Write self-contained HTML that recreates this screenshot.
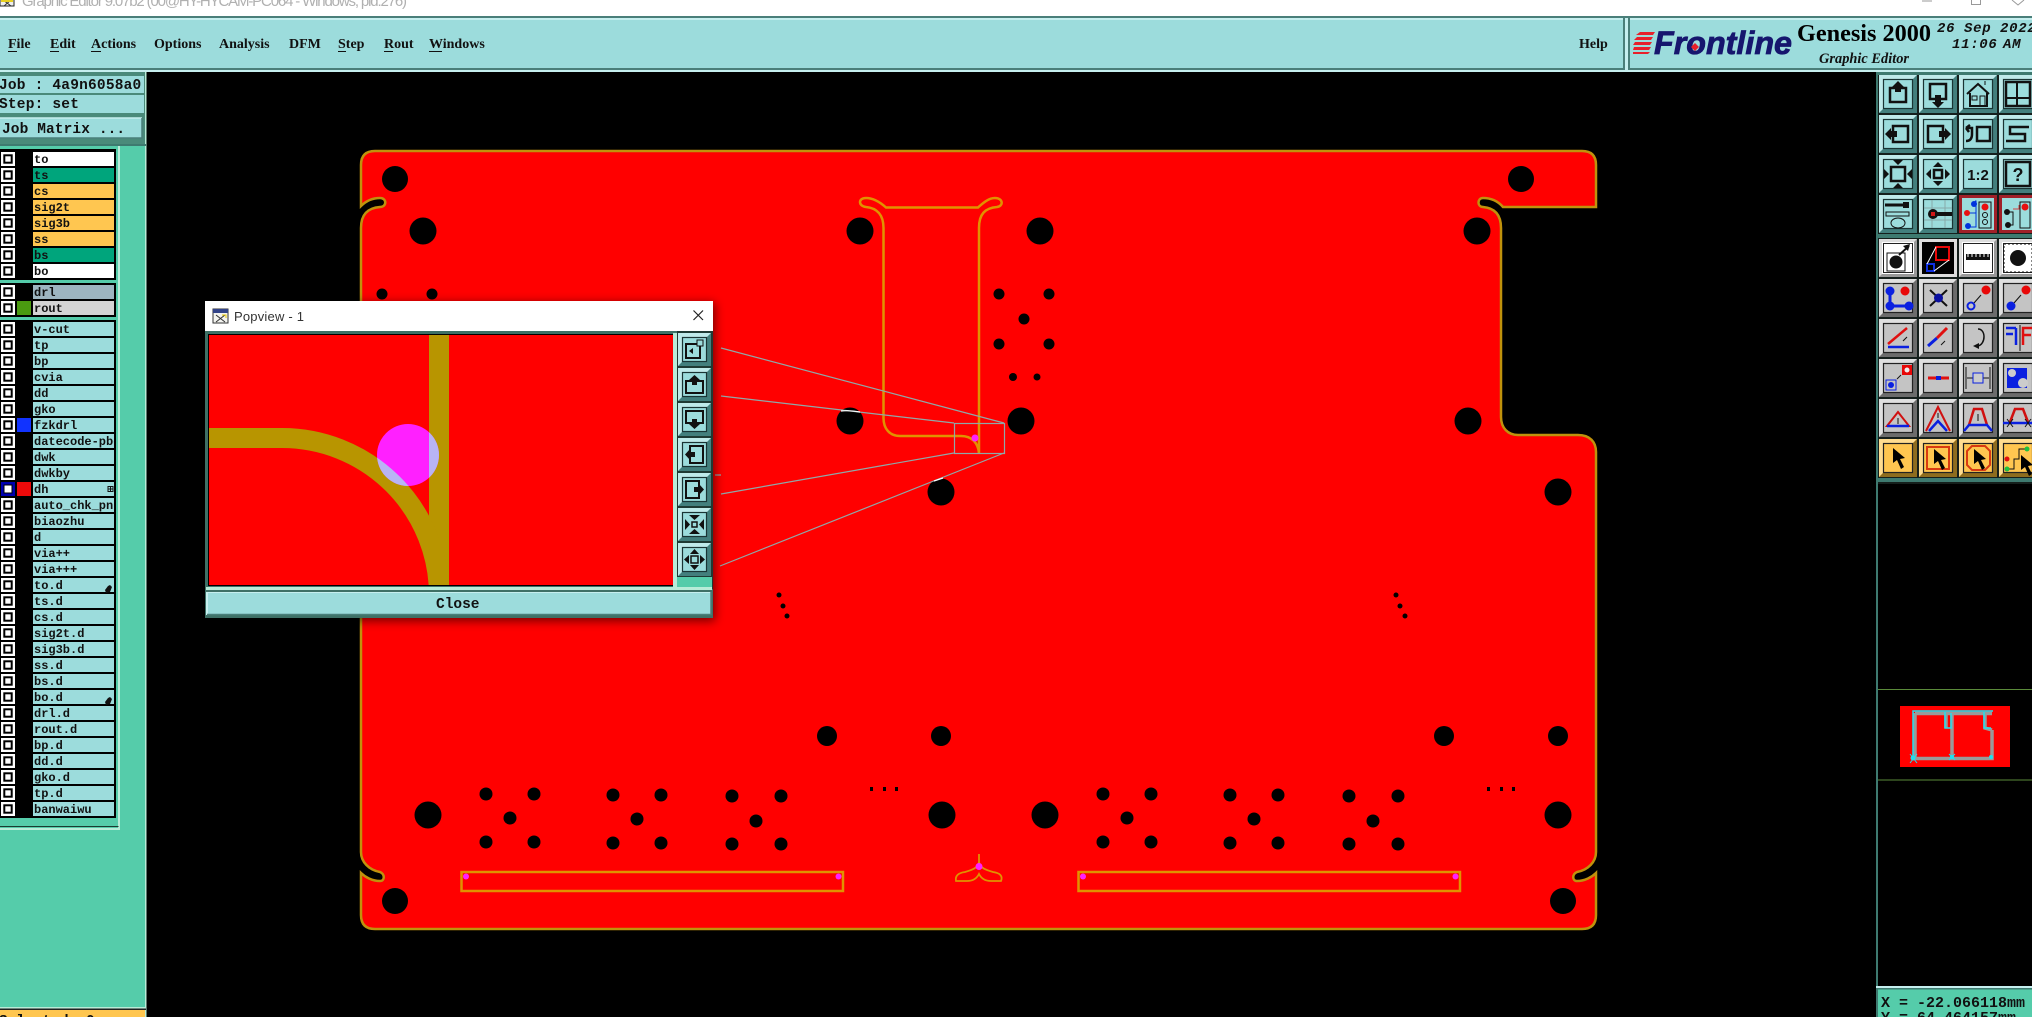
<!DOCTYPE html>
<html><head><meta charset="utf-8"><title>Graphic Editor</title>
<style>
html,body{margin:0;padding:0;background:#000;width:2032px;height:1017px;overflow:hidden}
svg{display:block}
.m{font:bold 14px "Liberation Serif",serif;fill:#111}
.mo{font:bold 14.5px "Liberation Mono",monospace;fill:#111}
.l{font:bold 12px "Liberation Mono",monospace;fill:#111}
</style></head><body>
<svg width="2032" height="1017" viewBox="0 0 2032 1017" xmlns="http://www.w3.org/2000/svg">
<defs>
<g id="bT"><rect width="38" height="38" fill="#9cdcdc"/><path d="M0 0H38L34 4H4V34L0 38Z" fill="#bfeaea"/><path d="M38 38H0L4 34H34V4L38 0Z" fill="#437f7d"/><rect x="4.500" y="4.500" width="29" height="29" fill="none" stroke="#1a3434" stroke-width="1.200"/></g>
<g id="bG"><rect width="38" height="38" fill="#c4c4c4"/><path d="M0 0H38L34 4H4V34L0 38Z" fill="#e0e0e0"/><path d="M38 38H0L4 34H34V4L38 0Z" fill="#6c6c6c"/><rect x="4.500" y="4.500" width="29" height="29" fill="none" stroke="#222" stroke-width="1.200"/></g>
<g id="bW"><rect width="38" height="38" fill="#ddd"/><path d="M38 38H0L3 35H35V3L38 0Z" fill="#999"/><rect x="3" y="3" width="32" height="32" fill="#fff"/><rect x="4.500" y="4.500" width="29" height="29" fill="#fff" stroke="#222"/></g>
<g id="bY"><rect width="38" height="38" fill="#ffc650"/><path d="M0 0H38L34 4H4V34L0 38Z" fill="#ffdc90"/><path d="M38 38H0L4 34H34V4L38 0Z" fill="#8e6c1e"/><rect x="4.500" y="4.500" width="29" height="29" fill="none" stroke="#222" stroke-width="1.200"/></g>
<g id="bP"><rect width="33" height="33" fill="#9cdcdc"/><path d="M0 0H33L29 4H4V29L0 33Z" fill="#bfeaea"/><path d="M33 33H0L4 29H29V4L33 0Z" fill="#437f7d"/><rect x="4.500" y="4.500" width="24" height="24" fill="none" stroke="#1a3434" stroke-width="1.200"/></g>
<g id="cb"><rect x="1" y="-7" width="14" height="14" fill="#fff"/><rect x="4.300" y="-3.700" width="7.400" height="7.400" fill="#fff" stroke="#000" stroke-width="2"/></g>
<path id="cur" d="M0 0L0 15L4 12L8 21L11 19L7 11L12 10Z" fill="#000"/>
<clipPath id="clipL"><rect x="33" y="140" width="81" height="700"/></clipPath>
<clipPath id="clipC"><rect x="209" y="335" width="464" height="250"/></clipPath>
<clipPath id="clipM"><circle cx="408" cy="455" r="31"/></clipPath>
<filter id="sh" x="-10%" y="-10%" width="120%" height="120%"><feGaussianBlur stdDeviation="5"/></filter>
</defs>

<rect width="2032" height="1017" fill="#000"/>

<!-- title bar -->
<rect width="2032" height="16" fill="#fff"/>
<rect x="0" y="-8" width="14" height="14" fill="#eee" stroke="#222"/>
<path d="M3 0L11 6M11 0L4 6" stroke="#333" fill="none"/><rect x="1" y="0" width="12" height="2" fill="#e8d020"/>
<text x="22" y="6" font-family="'Liberation Sans',sans-serif" font-size="15" fill="#b0b0b0" textLength="385">Graphic Editor 9.07b2 (00@HY-HYCAM-PC064 - Windows, pid:276)</text>
<path d="M1922 1H1932" stroke="#999"/><rect x="1971.500" y="-5" width="9" height="9.500" fill="none" stroke="#999"/><path d="M2012 0L2018 5L2024 0" stroke="#999" fill="none"/>

<!-- menu bar -->
<rect x="0" y="16" width="2032" height="2" fill="#4a7f7a"/>
<rect x="0" y="18" width="2032" height="2.500" fill="#c6efef"/>
<rect x="0" y="20" width="2032" height="48" fill="#9cdcdc"/>
<rect x="0" y="68" width="2032" height="2" fill="#4a7f7a"/>
<rect x="0" y="70" width="2032" height="2" fill="#c6efef"/>
<g class="m">
<text class="m" x="8" y="48">File</text>
<text class="m" x="50" y="48">Edit</text>
<text class="m" x="91" y="48">Actions</text>
<text class="m" x="154" y="48">Options</text>
<text class="m" x="219" y="48">Analysis</text>
<text class="m" x="289" y="48">DFM</text>
<text class="m" x="338" y="48">Step</text>
<text class="m" x="384" y="48">Rout</text>
<text class="m" x="429" y="48">Windows</text>
<text class="m" x="1579" y="48">Help</text>
</g>
<g fill="#111"><rect x="8" y="51" width="9" height="1"/><rect x="50" y="51" width="9" height="1"/><rect x="91" y="51" width="10" height="1"/><rect x="338" y="51" width="8" height="1"/><rect x="384" y="51" width="9" height="1"/><rect x="429" y="51" width="13" height="1"/></g>
<rect x="1623" y="18" width="2" height="52" fill="#4a7f7a"/>
<rect x="1560" y="68" width="65" height="2" fill="#4a7f7a"/>
<rect x="1625" y="18" width="3" height="54" fill="#c6efef"/>
<rect x="1628" y="18" width="2" height="52" fill="#4a7f7a"/>
<g fill="#e8202a"><path d="M1640 32L1655 32L1653 35H1636Z"/><path d="M1637 37H1653L1651 40H1634Z"/><path d="M1635 42H1652L1650 45H1633Z"/><path d="M1634 47H1651L1649 50H1633Z"/><path d="M1633 52H1650L1648 54H1633Z"/></g>
<text x="1654" y="54" font-family="'Liberation Sans',sans-serif" font-weight="bold" font-style="italic" font-size="32" fill="#16166e" stroke="#16166e" stroke-width="0.800" textLength="138" lengthAdjust="spacingAndGlyphs">Frontline</text>
<path d="M1695 43L1699 47L1695 51L1691 47Z" fill="#e8202a"/>
<text x="1797" y="41" font-family="'Liberation Serif',serif" font-weight="bold" font-size="24" fill="#000" textLength="134" lengthAdjust="spacingAndGlyphs">Genesis 2000</text>
<text x="1819" y="63" font-family="'Liberation Serif',serif" font-weight="bold" font-style="italic" font-size="14.500" fill="#111" textLength="90" lengthAdjust="spacingAndGlyphs">Graphic Editor</text>
<g font-family="'Liberation Mono',monospace" font-weight="bold" font-style="italic" font-size="14" fill="#111" letter-spacing="0.700">
<text x="1937" y="32">26</text><text x="1964" y="32">Sep</text><text x="2000" y="32">2022</text>
<text x="1952" y="48">11:06</text><text x="2003" y="48">AM</text></g>

<!-- left header -->
<rect x="0" y="72" width="146" height="74" fill="#4a8a7a"/>
<rect x="145" y="72" width="1.500" height="74" fill="#b8ecd8"/>
<rect x="0" y="76" width="144" height="17" fill="#9cdcdc"/>
<rect x="0" y="95" width="144" height="18" fill="#9cdcdc"/>
<rect x="0" y="118" width="142" height="19.500" fill="#9cdcdc"/>
<path d="M0 118H142" stroke="#c6efef" stroke-width="1.500"/><path d="M142 118V138H0" stroke="#4a7f7a" stroke-width="1.500" fill="none"/>
<text class="mo" x="-1" y="89" letter-spacing="0.200">Job : 4a9n6058a0</text>
<text class="mo" x="-1" y="108" letter-spacing="0.200">Step: set</text>
<text class="mo" x="2" y="133" letter-spacing="0.100">Job Matrix ...</text>

<!-- left panel -->
<rect x="0" y="146" width="146" height="871" fill="#55ccaa"/>
<rect x="145" y="146" width="1.500" height="871" fill="#b8ecd8"/>
<rect x="0" y="144" width="146" height="2" fill="#3e7a70"/>
<rect x="118" y="146" width="2" height="684" fill="#b8ecd8"/>
<rect x="0" y="828" width="120" height="2" fill="#b8ecd8"/>
<rect x="0" y="826" width="118.500" height="1" fill="#1a3a30"/>
<rect x="0" y="149" width="116" height="131" fill="#000"/>
<rect x="0" y="283" width="116" height="34" fill="#000"/>
<rect x="0" y="320" width="116" height="498" fill="#000"/>
<rect x="0" y="1007" width="146" height="1.500" fill="#b8ecd8"/>
<rect x="0" y="1008.500" width="146" height="1.500" fill="#222"/>
<rect x="0" y="1010" width="145" height="7" fill="#ffc650"/>
<text class="mo" x="-1" y="1025">Selected: 0</text>

<!-- layer cells -->
<g>
<rect x="33" y="152" width="81" height="14" fill="#fff"/><rect x="33" y="168" width="81" height="14" fill="#00a57c"/>
<rect x="33" y="184" width="81" height="14" fill="#ffc650"/><rect x="33" y="200" width="81" height="14" fill="#ffc650"/>
<rect x="33" y="216" width="81" height="14" fill="#ffc650"/><rect x="33" y="232" width="81" height="14" fill="#ffc650"/>
<rect x="33" y="248" width="81" height="14" fill="#00a57c"/><rect x="33" y="264" width="81" height="14" fill="#fff"/>
<rect x="33" y="285" width="81" height="14" fill="#9db5c0"/><rect x="33" y="301" width="81" height="14" fill="#d4d4d4"/>
<rect x="17" y="301" width="14" height="14" fill="#4a9a10"/>
</g>
<g fill="#9cdcdc">
<rect x="33" y="322" width="81" height="14"/><rect x="33" y="338" width="81" height="14"/><rect x="33" y="354" width="81" height="14"/><rect x="33" y="370" width="81" height="14"/><rect x="33" y="386" width="81" height="14"/><rect x="33" y="402" width="81" height="14"/><rect x="33" y="418" width="81" height="14"/><rect x="33" y="434" width="81" height="14"/><rect x="33" y="450" width="81" height="14"/><rect x="33" y="466" width="81" height="14"/><rect x="33" y="482" width="81" height="14"/><rect x="33" y="498" width="81" height="14"/><rect x="33" y="514" width="81" height="14"/><rect x="33" y="530" width="81" height="14"/><rect x="33" y="546" width="81" height="14"/><rect x="33" y="562" width="81" height="14"/><rect x="33" y="578" width="81" height="14"/><rect x="33" y="594" width="81" height="14"/><rect x="33" y="610" width="81" height="14"/><rect x="33" y="626" width="81" height="14"/><rect x="33" y="642" width="81" height="14"/><rect x="33" y="658" width="81" height="14"/><rect x="33" y="674" width="81" height="14"/><rect x="33" y="690" width="81" height="14"/><rect x="33" y="706" width="81" height="14"/><rect x="33" y="722" width="81" height="14"/><rect x="33" y="738" width="81" height="14"/><rect x="33" y="754" width="81" height="14"/><rect x="33" y="770" width="81" height="14"/><rect x="33" y="786" width="81" height="14"/><rect x="33" y="802" width="81" height="14"/>
</g>
<rect x="17" y="418" width="14" height="14" fill="#1133ff"/>
<rect x="17" y="482" width="14" height="14" fill="#ee0a0a"/>
<g>
<use href="#cb" y="159"/><use href="#cb" y="175"/><use href="#cb" y="191"/><use href="#cb" y="207"/><use href="#cb" y="223"/><use href="#cb" y="239"/><use href="#cb" y="255"/><use href="#cb" y="271"/><use href="#cb" y="292"/><use href="#cb" y="308"/>
<use href="#cb" y="329"/><use href="#cb" y="345"/><use href="#cb" y="361"/><use href="#cb" y="377"/><use href="#cb" y="393"/><use href="#cb" y="409"/><use href="#cb" y="425"/><use href="#cb" y="441"/><use href="#cb" y="457"/><use href="#cb" y="473"/><use href="#cb" y="489"/><use href="#cb" y="505"/><use href="#cb" y="521"/><use href="#cb" y="537"/><use href="#cb" y="553"/><use href="#cb" y="569"/><use href="#cb" y="585"/><use href="#cb" y="601"/><use href="#cb" y="617"/><use href="#cb" y="633"/><use href="#cb" y="649"/><use href="#cb" y="665"/><use href="#cb" y="681"/><use href="#cb" y="697"/><use href="#cb" y="713"/><use href="#cb" y="729"/><use href="#cb" y="745"/><use href="#cb" y="761"/><use href="#cb" y="777"/><use href="#cb" y="793"/><use href="#cb" y="809"/>
</g>
<rect x="1" y="482" width="14" height="14" fill="#0000b0"/><rect x="4" y="485" width="8" height="8" fill="#fff" stroke="#000" stroke-width="1"/>
<g clip-path="url(#clipL)">
<text class="l" x="34" y="163">to</text><text class="l" x="34" y="179">ts</text><text class="l" x="34" y="195">cs</text><text class="l" x="34" y="211">sig2t</text><text class="l" x="34" y="227">sig3b</text><text class="l" x="34" y="243">ss</text><text class="l" x="34" y="259">bs</text><text class="l" x="34" y="275">bo</text>
<text class="l" x="34" y="296">drl</text><text class="l" x="34" y="312">rout</text>
<text class="l" x="34" y="333">v-cut</text><text class="l" x="34" y="349">tp</text><text class="l" x="34" y="365">bp</text><text class="l" x="34" y="381">cvia</text><text class="l" x="34" y="397">dd</text><text class="l" x="34" y="413">gko</text><text class="l" x="34" y="429">fzkdrl</text><text class="l" x="34" y="445">datecode-pbc</text><text class="l" x="34" y="461">dwk</text><text class="l" x="34" y="477">dwkby</text><text class="l" x="34" y="493">dh</text><text class="l" x="34" y="509">auto_chk_pnl</text><text class="l" x="34" y="525">biaozhu</text><text class="l" x="34" y="541">d</text><text class="l" x="34" y="557">via++</text><text class="l" x="34" y="573">via+++</text><text class="l" x="34" y="589">to.d</text><text class="l" x="34" y="605">ts.d</text><text class="l" x="34" y="621">cs.d</text><text class="l" x="34" y="637">sig2t.d</text><text class="l" x="34" y="653">sig3b.d</text><text class="l" x="34" y="669">ss.d</text><text class="l" x="34" y="685">bs.d</text><text class="l" x="34" y="701">bo.d</text><text class="l" x="34" y="717">drl.d</text><text class="l" x="34" y="733">rout.d</text><text class="l" x="34" y="749">bp.d</text><text class="l" x="34" y="765">dd.d</text><text class="l" x="34" y="781">gko.d</text><text class="l" x="34" y="797">tp.d</text><text class="l" x="34" y="813">banwaiwu</text>
</g>
<rect x="108" y="486.500" width="5" height="5" fill="none" stroke="#111"/><path d="M110.500 487V491M108.500 489H112.500" stroke="#111"/>
<path d="M105 590L108 586L110 585L112 587L110 592L106 593Z" fill="#111"/>
<path d="M105 702L108 698L110 697L112 699L110 704L106 705Z" fill="#111"/>

<!-- board -->
<path d="M361 165Q361 151 375 151H1582Q1596 151 1596 165V207H1503C1497 200 1490 198 1483 198C1477 198 1477 207 1483 207C1495 208 1501 215 1501 228V417C1501 428 1508 435 1518 435H1578C1590 435 1596 442 1596 452V852C1596 862 1588 870 1577 872C1572 874 1572 881 1577 881C1585 881 1592 877 1596 873V915Q1596 929 1582 929H375Q361 929 361 915V873C365 877 372 881 380 881C385 881 385 874 380 872C369 870 361 862 361 852V228C361 215 367 208 380 207C387 207 387 198 380 198C373 198 367 200 361 206Z" fill="#ff0000" stroke="#c0920c" stroke-width="2.500"/>

<!-- large holes -->
<g fill="#000">
<circle cx="395" cy="179" r="13"/><circle cx="423" cy="231" r="13.500"/><circle cx="860" cy="231" r="13.500"/><circle cx="1040" cy="231" r="13.500"/><circle cx="1521" cy="179" r="13"/><circle cx="1477" cy="231" r="13.500"/>
<circle cx="850" cy="421" r="13.500"/><circle cx="1021" cy="421" r="13.500"/><circle cx="1468" cy="421" r="13.500"/><circle cx="941" cy="492" r="13.500"/><circle cx="1558" cy="492" r="13.500"/>
<circle cx="827" cy="736" r="10"/><circle cx="941" cy="736" r="10"/><circle cx="1444" cy="736" r="10"/><circle cx="1558" cy="736" r="10"/>
<circle cx="428" cy="815" r="13.500"/><circle cx="942" cy="815" r="13.500"/><circle cx="1045" cy="815" r="13.500"/><circle cx="1558" cy="815" r="13.500"/>
<circle cx="395" cy="901" r="13"/><circle cx="1563" cy="901" r="13"/>
<circle cx="382" cy="294" r="5.500"/><circle cx="432" cy="294" r="5.500"/>
<circle cx="999" cy="294" r="5.500"/><circle cx="1049" cy="294" r="5.500"/><circle cx="1024" cy="319" r="5.500"/><circle cx="999" cy="344" r="5.500"/><circle cx="1049" cy="344" r="5.500"/><circle cx="1013" cy="377" r="4"/><circle cx="1037" cy="377" r="3.500"/>
<circle cx="779" cy="595" r="2.500"/><circle cx="783" cy="606" r="2.500"/><circle cx="787" cy="616" r="2.500"/><circle cx="1396" cy="595" r="2.500"/><circle cx="1400" cy="606" r="2.500"/><circle cx="1405" cy="616" r="2.500"/>
<circle cx="486" cy="794" r="6.500"/><circle cx="534" cy="794" r="6.500"/><circle cx="510" cy="818" r="6.500"/><circle cx="486" cy="842" r="6.500"/><circle cx="534" cy="842" r="6.500"/>
<circle cx="613" cy="795" r="6.500"/><circle cx="661" cy="795" r="6.500"/><circle cx="637" cy="819" r="6.500"/><circle cx="613" cy="843" r="6.500"/><circle cx="661" cy="843" r="6.500"/>
<circle cx="732" cy="796" r="6.500"/><circle cx="781" cy="796" r="6.500"/><circle cx="756" cy="821" r="6.500"/><circle cx="732" cy="844" r="6.500"/><circle cx="781" cy="844" r="6.500"/>
<circle cx="1103" cy="794" r="6.500"/><circle cx="1151" cy="794" r="6.500"/><circle cx="1127" cy="818" r="6.500"/><circle cx="1103" cy="842" r="6.500"/><circle cx="1151" cy="842" r="6.500"/>
<circle cx="1230" cy="795" r="6.500"/><circle cx="1278" cy="795" r="6.500"/><circle cx="1254" cy="819" r="6.500"/><circle cx="1230" cy="843" r="6.500"/><circle cx="1278" cy="843" r="6.500"/>
<circle cx="1349" cy="796" r="6.500"/><circle cx="1398" cy="796" r="6.500"/><circle cx="1373" cy="821" r="6.500"/><circle cx="1349" cy="844" r="6.500"/><circle cx="1398" cy="844" r="6.500"/>
<rect x="870" y="787" width="3" height="4"/><rect x="883" y="787" width="3" height="4"/><rect x="895" y="787" width="3" height="4"/>
<rect x="1487" y="787" width="3" height="4"/><rect x="1500" y="787" width="3" height="4"/><rect x="1512" y="787" width="3" height="4"/>
</g>

<!-- slot, rects -->
<g fill="none" stroke="#e09200" stroke-width="2.500">
<path d="M886 207.500H978C982 204 988 198 995 198C1003 198 1004 206 997 207C985 208 979 214 979 228V453C978 443 972 436 961 436H900C890 436 883.500 429 883.500 418V228C883.500 215 877 208 866 207C858 206 858 198 866 198C874 198 881 203 886 207.500Z"/>
<rect x="461.500" y="872" width="381.500" height="19"/><rect x="1078.500" y="872" width="381.500" height="19"/>
<path stroke-width="1.800" d="M979 854V862C978 868 972 870 965 872C958 873 955 876 956 881H967C973 881 977 878 979 874C981 878 985 881 991 881H1001C1003 876 1000 873 993 872C986 870 980 868 979 862"/>
</g>
<g fill="#ff20ff"><circle cx="466" cy="876.500" r="3"/><circle cx="838.500" cy="876.500" r="3"/><circle cx="1083" cy="876.500" r="3"/><circle cx="1455.500" cy="876.500" r="3"/><circle cx="979" cy="866.500" r="3.500"/><circle cx="975" cy="438" r="3.500"/></g>

<!-- zoom indicator lines -->
<g fill="none" stroke="#8fa8a8" stroke-width="1.200">
<rect x="954.500" y="423.500" width="50" height="30"/>
<path d="M721 348L1004 423M721 396L954 423M721 494L954 453M720 566L1004 453M715 475H721"/>
</g>
<path d="M841 411Q850 410 860 412M934 481L943 478" stroke="#fff" stroke-width="1.200" fill="none"/>

<!-- popup shadow -->
<rect x="205" y="303" width="510" height="318" fill="#000" opacity="0.55" filter="url(#sh)"/>
<!-- popup -->
<rect x="205" y="301" width="508" height="30" fill="#fff"/>
<rect x="213" y="309" width="15" height="14" fill="#f4f4f0" stroke="#333"/><rect x="213" y="309" width="15" height="4" fill="#334488"/>
<path d="M216 315L225 322M225 315L216 322" stroke="#333" fill="none"/><path d="M222 315H226V318" stroke="#e8c800" fill="none"/>
<text x="234" y="321" font-family="'Liberation Sans',sans-serif" font-size="13" fill="#333" letter-spacing="0.200">Popview - 1</text>
<path d="M693.500 310.500L703 320M703 310.500L693.500 320" stroke="#222" stroke-width="1.200"/>
<rect x="205" y="331" width="508" height="287" fill="#3e7066"/>
<rect x="208" y="334" width="466" height="252" fill="#000"/>
<rect x="209" y="335" width="464" height="250" fill="#ff0000"/>
<g clip-path="url(#clipC)">
<rect x="429" y="335" width="20" height="250" fill="#b89500"/>
<path d="M209 438H282A157 157 0 0 1 439 595" fill="none" stroke="#b89500" stroke-width="20"/>
<circle cx="408" cy="455" r="31" fill="#ff20ff"/>
<g clip-path="url(#clipM)">
<rect x="429" y="335" width="20" height="250" fill="#b8b4f4"/>
<path d="M209 438H282A157 157 0 0 1 439 595" fill="none" stroke="#b8b4f4" stroke-width="20"/>
</g>
</g>
<rect x="673" y="333" width="4" height="254" fill="#b8ecd8"/>
<rect x="677" y="331" width="36" height="258" fill="#1f3a34"/>
<rect x="677" y="577" width="35" height="11" fill="#55ccaa"/>
<rect x="206" y="587" width="506" height="3" fill="#b8ecd8"/>
<rect x="207" y="592" width="504" height="23" fill="#9cdcdc"/>
<path d="M207 592.500H711" stroke="#c6efef"/><path d="M207 592V615" stroke="#c6efef" stroke-width="2"/><path d="M207 614.500H711V592" stroke="#4a7f7a" fill="none" stroke-width="1.500"/>
<text class="mo" x="436" y="608">Close</text>

<g transform="translate(678,333)"><use href="#bP"/><rect x="8" y="11" width="14" height="14" fill="none" stroke="#111" stroke-width="2"/><rect x="19" y="7" width="6" height="6" fill="#9cdcdc" stroke="#111"/><path d="M11 18L15 15V21Z" fill="#111"/></g>
<g transform="translate(678,368)"><use href="#bP"/><rect x="8" y="13" width="17" height="12" fill="none" stroke="#111" stroke-width="2"/><path d="M16.500 7L22 12H19V17H14V12H11Z" fill="#111"/></g>
<g transform="translate(678,403)"><use href="#bP"/><rect x="8" y="8" width="17" height="12" fill="none" stroke="#111" stroke-width="2"/><path d="M16.500 26L22 21H19V16H14V21H11Z" fill="#111"/></g>
<g transform="translate(678,438)"><use href="#bP"/><rect x="12" y="8" width="13" height="17" fill="none" stroke="#111" stroke-width="2"/><path d="M7 16.500L12 11V14H17V19H12V22Z" fill="#111"/></g>
<g transform="translate(678,473)"><use href="#bP"/><rect x="8" y="8" width="13" height="17" fill="none" stroke="#111" stroke-width="2"/><path d="M26 16.500L21 11V14H16V19H21V22Z" fill="#111"/></g>
<g transform="translate(678,508)"><use href="#bP"/><rect x="14" y="14" width="5" height="5" fill="none" stroke="#111" stroke-width="1.500"/><path d="M16.500 12L11 7H22ZM16.500 21L11 26H22ZM12 16.500L7 11V22ZM21 16.500L26 11V22Z" fill="#111"/></g>
<g transform="translate(678,543)"><use href="#bP"/><rect x="13" y="13" width="7" height="7" fill="none" stroke="#111" stroke-width="1.500"/><path d="M16.500 6L12 11H21ZM16.500 27L12 22H21ZM6 16.500L11 12V21ZM27 16.500L22 12V21Z" fill="#111"/></g>

<!-- right toolbar -->
<rect x="1876" y="72" width="156" height="412" fill="#151f1c"/>
<rect x="1876" y="72" width="2" height="945" fill="#3e7a70"/>
<rect x="1876" y="72" width="156" height="3" fill="#3e7a70"/>
<rect x="1876" y="234" width="156" height="4" fill="#3e7a70"/>
<rect x="1876" y="478" width="156" height="4" fill="#3e7a70"/>

<g transform="translate(1879,75)"><use href="#bT"/><rect x="11" y="13" width="16" height="14" fill="none" stroke="#111" stroke-width="2.500"/><path d="M19 6L25 12H22V17H16V12H13Z" fill="#111"/></g>
<g transform="translate(1919,75)"><use href="#bT"/><rect x="11" y="9" width="16" height="15" fill="none" stroke="#111" stroke-width="2.500"/><path d="M19 33L25 27H22V20H16V27H13Z" fill="#111"/></g>
<g transform="translate(1959,75)"><use href="#bT"/><path d="M8 19L19 9L30 19M11 18V31H28V18" fill="none" stroke="#111" stroke-width="2"/><rect x="13" y="21" width="5" height="4" fill="none" stroke="#111"/><rect x="21" y="21" width="5" height="10" fill="none" stroke="#111"/><path d="M26 10V6" stroke="#111"/></g>
<g transform="translate(1999,75)"><use href="#bT"/><rect x="7" y="7" width="24" height="24" fill="none" stroke="#111" stroke-width="2.500"/><path d="M7 23H31M18 7V31" stroke="#111" stroke-width="2"/></g>

<g transform="translate(1879,115)"><use href="#bT"/><rect x="14" y="11" width="15" height="16" fill="none" stroke="#111" stroke-width="2.500"/><path d="M6 19L12 13V16H18V22H12V25Z" fill="#111"/></g>
<g transform="translate(1919,115)"><use href="#bT"/><rect x="9" y="11" width="15" height="16" fill="none" stroke="#111" stroke-width="2.500"/><path d="M32 19L26 13V16H20V22H26V25Z" fill="#111"/></g>
<g transform="translate(1959,115)"><use href="#bT"/><rect x="18" y="12" width="13" height="14" fill="none" stroke="#111" stroke-width="2.500"/><path d="M7 13H13V19Q13 26 7 26M7 13L11 10M7 13L10 17" fill="none" stroke="#111" stroke-width="2.500"/></g>
<g transform="translate(1999,115)"><use href="#bT"/><path d="M30 12H11V19H26V26H7" fill="none" stroke="#111" stroke-width="2.500"/></g>

<g transform="translate(1879,155)"><use href="#bT"/><rect x="12" y="12" width="14" height="14" fill="none" stroke="#111" stroke-width="2.500"/><path d="M19 10L14 5H24ZM19 28L14 33H24ZM10 19L5 14V24ZM28 19L33 14V24Z" fill="#111"/></g>
<g transform="translate(1919,155)"><use href="#bT"/><rect x="15" y="15" width="8" height="8" fill="none" stroke="#111" stroke-width="2.500"/><path d="M19 7L14 12H24ZM19 31L14 26H24ZM7 19L12 14V24ZM31 19L26 14V24Z" fill="#111"/></g>
<g transform="translate(1959,155)"><use href="#bT"/><text x="19" y="25" text-anchor="middle" font-family="'Liberation Sans',sans-serif" font-weight="bold" font-size="15" fill="#111">1:2</text></g>
<g transform="translate(1999,155)"><use href="#bT"/><rect x="7" y="7" width="24" height="24" fill="none" stroke="#111" stroke-width="2.500"/><text x="19" y="26" text-anchor="middle" font-family="'Liberation Sans',sans-serif" font-weight="bold" font-size="18" fill="#111">?</text></g>

<g transform="translate(1879,195)"><use href="#bT"/><path d="M6 10H24" stroke="#111" stroke-width="3"/><path d="M24 7H30V13H24Z" fill="#111"/><path d="M7 17H30V21H7Z" fill="none" stroke="#111"/><ellipse cx="19" cy="28" rx="7" ry="5" fill="none" stroke="#111"/></g>
<g transform="translate(1919,195)"><use href="#bT"/><path d="M5 13H33M5 25H33M13 5V33M26 5V33" stroke="#8aa" fill="none"/><circle cx="14" cy="19" r="5" fill="#111"/><rect x="18" y="17" width="15" height="4" fill="#111"/><rect x="12" y="17" width="4" height="4" fill="#d01818"/></g>
<g transform="translate(1959,195)"><rect width="38" height="38" fill="#9cdcdc"/><rect x="1.500" y="1.500" width="35" height="35" fill="#9cdcdc" stroke="#a02028" stroke-width="3"/><path d="M7 18H17V6H16M17 18V32H10" stroke="#0033dd" fill="none"/><circle cx="8" cy="18" r="3" fill="#e81010"/><circle cx="15" cy="9" r="3" fill="#0033dd"/><circle cx="9" cy="31" r="3" fill="#0033dd"/><rect x="20" y="7" width="12" height="26" fill="none" stroke="#111"/><circle cx="26" cy="12" r="3.500" fill="#e81010"/><circle cx="26" cy="20" r="2.500" fill="none" stroke="#111"/><circle cx="26" cy="27" r="2.500" fill="none" stroke="#111"/></g>
<g transform="translate(1999,195)"><rect width="38" height="38" fill="#9cdcdc"/><rect x="1.500" y="1.500" width="35" height="35" fill="#9cdcdc" stroke="#a02028" stroke-width="3"/><path d="M8 17H14V30H8" stroke="#111" fill="none"/><circle cx="8" cy="17" r="3" fill="#111"/><circle cx="9" cy="30" r="3" fill="#111"/><path d="M14 14H20V10" stroke="#d04040" fill="none"/><rect x="21" y="7" width="10" height="26" fill="none" stroke="#111"/><circle cx="26" cy="12" r="3.500" fill="#e81010"/></g>

<g transform="translate(1879,239)"><use href="#bW"/><rect x="8" y="14" width="18" height="18" fill="none" stroke="#111"/><circle cx="17" cy="23" r="6.500" fill="#111"/><path d="M20 16L30 7" stroke="#111" stroke-width="2"/><path d="M31 5L24 7L29 12Z" fill="#111"/></g>
<g transform="translate(1919,239)"><rect width="38" height="38" fill="#ddd"/><rect x="3" y="3" width="32" height="32" fill="#000"/><rect x="17" y="8" width="13" height="13" fill="none" stroke="#e80808" stroke-width="2"/><rect x="8" y="25" width="7" height="7" fill="none" stroke="#1030e0" stroke-width="2"/><path d="M17 8L8 25M30 21L15 32" stroke="#fff"/></g>
<g transform="translate(1959,239)"><use href="#bW"/><rect x="7" y="15" width="24" height="6" fill="#111"/><path d="M9 14V18M13 14V18M17 14V18M21 14V18M25 14V18M29 14V18" stroke="#fff"/></g>
<g transform="translate(1999,239)"><use href="#bW"/><rect x="5" y="5" width="28" height="28" fill="none" stroke="#111" stroke-dasharray="2 2"/><circle cx="19" cy="19" r="8" fill="#111"/></g>

<g transform="translate(1879,279)"><use href="#bG"/><path d="M11 12V27H30" stroke="#0a20e0" stroke-width="3" fill="none"/><circle cx="11" cy="12" r="4.500" fill="#0a20e0"/><circle cx="11" cy="27" r="4.500" fill="#0a20e0"/><circle cx="30" cy="27" r="4.500" fill="#0a20e0"/><circle cx="26" cy="12" r="4.500" fill="#e80808"/></g>
<g transform="translate(1919,279)"><use href="#bG"/><path d="M11 11L28 27M28 11L11 27" stroke="#111" stroke-width="2"/><circle cx="19.500" cy="19" r="4.500" fill="#0a10a0"/></g>
<g transform="translate(1959,279)"><use href="#bG"/><circle cx="12" cy="27" r="3.500" fill="none" stroke="#0a20e0" stroke-width="2"/><circle cx="27" cy="11" r="4.500" fill="#e80808"/><path d="M15 24L22 16" stroke="#111"/></g>
<g transform="translate(1999,279)"><use href="#bG"/><circle cx="12" cy="27" r="4.500" fill="#0a20e0"/><circle cx="27" cy="11" r="4.500" fill="#e80808"/><path d="M15 24L22 16" stroke="#111"/></g>

<g transform="translate(1879,319)"><use href="#bG"/><path d="M9 25L28 9" stroke="#e01010" stroke-width="2.500"/><path d="M9 28H30" stroke="#0a20e0" stroke-width="2.500"/><path d="M24 22L28 18" stroke="#111"/></g>
<g transform="translate(1919,319)"><use href="#bG"/><path d="M9 27L18 19" stroke="#0a20e0" stroke-width="3"/><path d="M18 19L28 9" stroke="#e01010" stroke-width="3"/><path d="M22 26L26 22" stroke="#111"/></g>
<g transform="translate(1959,319)"><use href="#bG"/><path d="M19 10C27 10 27 25 19 27" fill="none" stroke="#111" stroke-width="1.500"/><path d="M14 27L20 24V30Z" fill="#111"/></g>
<g transform="translate(1999,319)"><use href="#bG"/><path d="M7 9H17M7 15H14M17 9V26" stroke="#0a20e0" stroke-width="2.500" fill="none"/><path d="M21 6V32" stroke="#111"/><path d="M24 26V9H33M24 16H32" stroke="#e01010" stroke-width="2.500" fill="none"/></g>

<g transform="translate(1879,359)"><use href="#bG"/><rect x="23" y="6" width="10" height="10" fill="#e80808"/><circle cx="28" cy="11" r="2.500" fill="#eee"/><rect x="7" y="21" width="10" height="10" fill="none" stroke="#0a20e0"/><circle cx="12" cy="26" r="3" fill="#0a20e0"/><path d="M18 20L22 16" stroke="#111"/></g>
<g transform="translate(1919,359)"><use href="#bG"/><path d="M9 19H30" stroke="#e01010" stroke-width="3"/><rect x="17" y="17" width="5" height="4" fill="#0a20e0"/></g>
<g transform="translate(1959,359)"><use href="#bG"/><path d="M7 8V30M31 8V30M8 19H30" stroke="#111" fill="none"/><rect x="14" y="14" width="10" height="10" fill="#ccc" stroke="#0a20e0"/></g>
<g transform="translate(1999,359)"><use href="#bG"/><rect x="8" y="9" width="20" height="20" fill="#0a20e0"/><circle cx="13" cy="14" r="4" fill="#ccc"/><circle cx="24" cy="24" r="5" fill="#ccc"/></g>

<g transform="translate(1879,399)"><use href="#bG"/><path d="M8 27L19 13L30 27Z" fill="none" stroke="#d01010" stroke-width="2"/><path d="M8 27H30" stroke="#0a20e0" stroke-width="2.500"/><path d="M19 25V19" stroke="#111"/></g>
<g transform="translate(1919,399)"><use href="#bG"/><path d="M7 32L19 8L31 32" fill="none" stroke="#d01010" stroke-width="2"/><path d="M10 32L19 22L28 32" fill="none" stroke="#0a20e0" stroke-width="2.500"/><path d="M19 19V14" stroke="#111"/></g>
<g transform="translate(1959,399)"><use href="#bG"/><path d="M10 26L15 10H23L28 26" fill="none" stroke="#d01010" stroke-width="2.500"/><path d="M5 32L10 26H28L33 32" fill="none" stroke="#0a20e0" stroke-width="2.500"/><path d="M19 22V15" stroke="#111"/></g>
<g transform="translate(1999,399)"><use href="#bG"/><path d="M11 23L16 10H24L29 23" fill="none" stroke="#d01010" stroke-width="2.500"/><path d="M4 24H34" stroke="#0a20e0" stroke-width="2.500"/><path d="M8 20L14 28M14 20L8 28M26 20L32 28M32 20L26 28" stroke="#111"/></g>

<g transform="translate(1879,439)"><use href="#bY"/><use href="#cur" x="14" y="9"/></g>
<g transform="translate(1919,439)"><use href="#bY"/><rect x="8" y="8" width="22" height="22" fill="none" stroke="#d83a10" stroke-width="2"/><use href="#cur" x="15" y="10"/></g>
<g transform="translate(1959,439)"><use href="#bY"/><path d="M13 7H26L31 12V26L26 31H13L8 26V12Z" fill="none" stroke="#d83a10" stroke-width="2"/><use href="#cur" x="15" y="10"/></g>
<g transform="translate(1999,439)"><use href="#bY"/><path d="M9 30H15V20H20V10H26" fill="none" stroke="#111"/><circle cx="8" cy="30" r="2.500" fill="#20c040"/><circle cx="8" cy="20" r="2.500" fill="#e01010"/><circle cx="28" cy="10" r="2.500" fill="#20c040"/><use href="#cur" x="22" y="16"/></g>

<!-- minimap -->
<path d="M1878 689.500H2032M1878 780H2032" stroke="#5a8a3a"/>
<rect x="1900" y="706" width="110" height="61" fill="#ff0000"/>
<g fill="none" stroke="#9a9a9a" stroke-width="3.500">
<path d="M1915 713.500H1992M1915 713V758.500H1992V730M1952 713V758M1946 713V728M1985 713V728L1992 730"/>
</g>
<g fill="none" stroke="#20e0f0" stroke-width="1.500">
<path d="M1913 758V711H1993M1945 712V728H1951V713M1984 712V728H1991"/>
</g>
<g stroke="#20e0f0" stroke-width="1"><path d="M1910 754L1917 763M1917 754L1910 763M1949 754L1955 760M1955 754L1949 760"/></g>
<circle cx="1913" cy="758" r="2.500" fill="#20e0f0"/><circle cx="1952" cy="757" r="2" fill="#20e0f0"/><circle cx="1991" cy="757" r="2" fill="#20e0f0"/>

<!-- coord panel -->
<rect x="1876" y="986" width="156" height="2" fill="#c6efef"/>
<rect x="1876" y="988" width="156" height="1.500" fill="#3e7a70"/>
<rect x="1878" y="989.500" width="154" height="27.500" fill="#55ccaa"/>
<text x="1881" y="1007" font-family="'Liberation Mono',monospace" font-weight="bold" font-size="15" fill="#111">X = -22.066118mm</text>
<text x="1881" y="1022" font-family="'Liberation Mono',monospace" font-weight="bold" font-size="15" fill="#111">Y =  64.464157mm</text>
</svg>
</body></html>
